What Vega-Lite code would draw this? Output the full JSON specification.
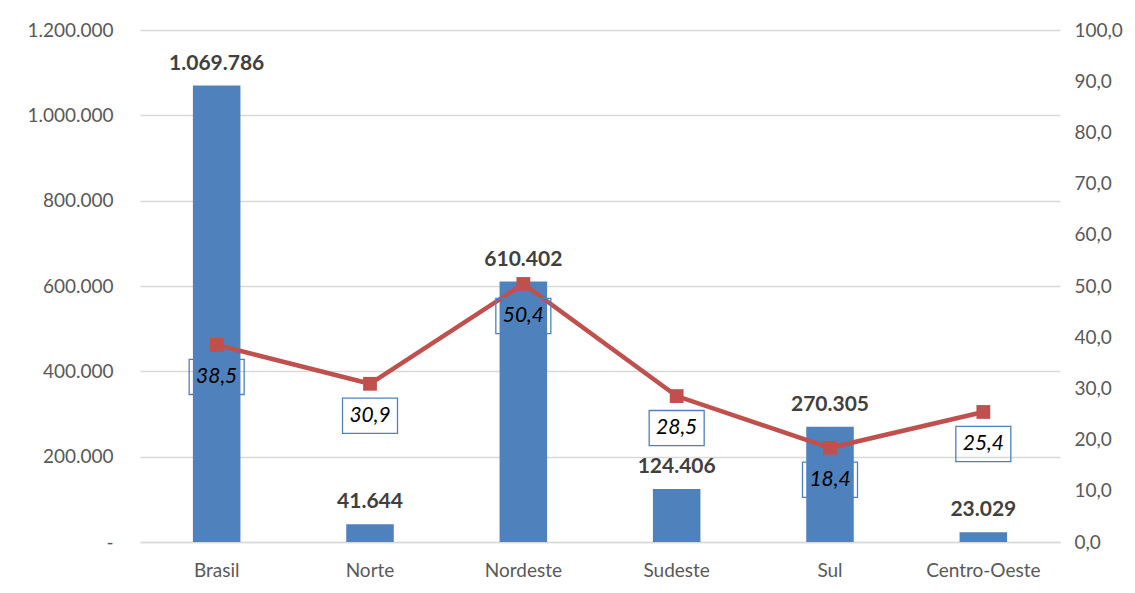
{
  "$schema": "https://vega.github.io/schema/vega-lite/v6.json",
  "width": 920,
  "height": 512,
  "autosize": {"type": "none"},
  "padding": {"left": 140, "top": 30, "right": 75, "bottom": 51},
  "background": "white",
  "config": {"view": {"stroke": null}, "font": "Lato"},
  "data": {
    "values": [
      {"regiao": "Brasil", "valor": 1069786, "rotulo": "1.069.786", "pct": 38.5, "pct_rotulo": "38,5"},
      {"regiao": "Norte", "valor": 41644, "rotulo": "41.644", "pct": 30.9, "pct_rotulo": "30,9"},
      {"regiao": "Nordeste", "valor": 610402, "rotulo": "610.402", "pct": 50.4, "pct_rotulo": "50,4"},
      {"regiao": "Sudeste", "valor": 124406, "rotulo": "124.406", "pct": 28.5, "pct_rotulo": "28,5"},
      {"regiao": "Sul", "valor": 270305, "rotulo": "270.305", "pct": 18.4, "pct_rotulo": "18,4"},
      {"regiao": "Centro-Oeste", "valor": 23029, "rotulo": "23.029", "pct": 25.4, "pct_rotulo": "25,4"}
    ]
  },
  "encoding": {
    "x": {
      "field": "regiao",
      "type": "nominal",
      "sort": null,
      "scale": {"paddingInner": 0.69, "paddingOuter": 0.345},
      "axis": {
        "title": null,
        "labelAngle": 0,
        "labelFontSize": 19,
        "labelColor": "#595959",
        "labelPadding": 19,
        "ticks": false,
        "grid": false,
        "domainColor": "#D9D9D9",
        "domainWidth": 1.5
      }
    }
  },
  "layer": [
    {
      "encoding": {
        "y": {
          "field": "valor",
          "type": "quantitative",
          "scale": {"domain": [0, 1200000]},
          "axis": {
            "title": null,
            "values": [0, 200000, 400000, 600000, 800000, 1000000, 1200000],
            "labelExpr": "datum.value == 0 ? '-' : replace(replace(format(datum.value, ','), ',', '.'), ',', '.')",
            "labelFontSize": 19,
            "labelColor": "#595959",
            "labelPadding": 27,
            "ticks": false,
            "domain": false,
            "grid": true,
            "gridColor": "#D9D9D9",
            "gridWidth": 1.5
          }
        }
      },
      "layer": [
        {"mark": {"type": "bar", "color": "#4F81BD"}},
        {
          "mark": {"type": "text", "baseline": "bottom", "dy": -12, "fontSize": 21, "fontWeight": "bold", "color": "#404040"},
          "encoding": {"text": {"field": "rotulo"}}
        }
      ]
    },
    {
      "encoding": {
        "y": {
          "field": "pct",
          "type": "quantitative",
          "scale": {"domain": [0, 100]},
          "axis": {
            "title": null,
            "orient": "right",
            "values": [0, 10, 20, 30, 40, 50, 60, 70, 80, 90, 100],
            "labelExpr": "replace(format(datum.value, '.1f'), '.', ',')",
            "labelFontSize": 19,
            "labelColor": "#595959",
            "labelPadding": 14,
            "ticks": false,
            "domain": false,
            "grid": false
          }
        }
      },
      "layer": [
        {"mark": {"type": "line", "color": "#C0504D", "strokeWidth": 4.5}},
        {"mark": {"type": "point", "shape": "square", "filled": true, "size": 190, "color": "#C0504D", "opacity": 1}},
        {
          "mark": {
            "type": "point",
            "shape": "M-1,-0.64L1,-0.64L1,0.64L-1,0.64Z",
            "filled": false,
            "size": 3025,
            "stroke": "#4F81BD",
            "strokeWidth": 1.3,
            "opacity": 1,
            "yOffset": 32
          }
        },
        {
          "mark": {"type": "text", "baseline": "middle", "yOffset": 32, "fontSize": 21, "fontStyle": "italic", "color": "#000000"},
          "encoding": {"text": {"field": "pct_rotulo"}}
        }
      ]
    }
  ],
  "resolve": {"scale": {"y": "independent"}}
}
